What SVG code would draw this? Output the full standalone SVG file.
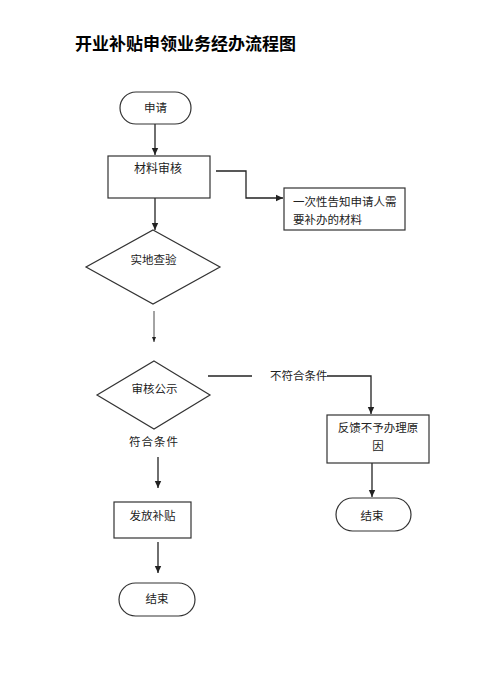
<svg xmlns="http://www.w3.org/2000/svg" width="486" height="688" viewBox="0 0 486 688">
<style>
.shape{fill:#fff;stroke:#333;stroke-width:1.2}
.ln{fill:none;stroke:#222;stroke-width:1.3}
.thin{fill:none;stroke:#333;stroke-width:0.9}
text{font-family:"Noto Sans CJK SC","Noto Sans",sans-serif;fill:#222;font-size:11.5px}
.c{text-anchor:middle}
.title{font-size:17px;font-weight:bold;fill:#000}
</style>
<defs>
<marker id="ah" markerUnits="userSpaceOnUse" markerWidth="8" markerHeight="8" refX="7" refY="4" orient="auto">
<path d="M0,0.8 L7,4 L0,7.2 Z" fill="#222"/>
</marker>
<marker id="ahs" markerUnits="userSpaceOnUse" markerWidth="6" markerHeight="6" refX="5" refY="3" orient="auto">
<path d="M0,1 L5,3 L0,5 Z" fill="#222"/>
</marker>
</defs>
<rect width="486" height="688" fill="#fff"/>
<text class="title" x="75" y="50">开业补贴申领业务经办流程图</text>

<g id="connectors">
<path class="ln" d="M155,124 V155" marker-end="url(#ah)"/>
<path class="ln" d="M216,171 H246 V198 H283" marker-end="url(#ah)"/>
<path class="ln" d="M155,198 V230" marker-end="url(#ah)"/>
<path class="thin" d="M154,311 V342" marker-end="url(#ahs)"/>
<path class="ln" d="M208,376 H252"/>
<path class="ln" d="M327,376 H371 V414" marker-end="url(#ah)"/>
<text x="270" y="380">不符合条件</text>
<text x="129" y="446" style="letter-spacing:1px">符合条件</text>
<path class="ln" d="M158,457 V488" marker-end="url(#ah)"/>
<path class="ln" d="M158,542 V573" marker-end="url(#ah)"/>
<path class="ln" d="M372,463 V497" marker-end="url(#ah)"/>
</g>

<g id="n-apply">
<rect class="shape" x="120" y="92" width="71" height="32" rx="16"/>
<text class="c" x="155.5" y="112">申请</text>
</g>
<g id="n-review">
<rect class="shape" x="108" y="156" width="102" height="42"/>
<text class="c" x="158" y="173" style="font-size:12px">材料审核</text>
</g>
<g id="n-notify">
<rect class="shape" x="284" y="188" width="121" height="42"/>
<text x="293" y="206">一次性告知申请人需</text>
<text x="293" y="223.5">要补办的材料</text>
</g>
<g id="n-inspect">
<polygon class="shape" points="153,230 220,267 153,304 86,267"/>
<text class="c" x="153.5" y="264">实地查验</text>
</g>
<g id="n-publicize">
<polygon class="shape" points="154,361 210,395 154,429 97,395"/>
<text class="c" x="154.5" y="393">审核公示</text>
</g>
<g id="n-issue">
<rect class="shape" x="114" y="502" width="77" height="36"/>
<text class="c" x="152.5" y="520">发放补贴</text>
</g>
<g id="n-end-left">
<rect class="shape" x="119" y="583" width="76" height="33" rx="16.5"/>
<text class="c" x="157" y="603">结束</text>
</g>
<g id="n-feedback">
<rect class="shape" x="327" y="415" width="102" height="48"/>
<text class="c" x="378" y="432">反馈不予办理原</text>
<text class="c" x="378" y="450">因</text>
</g>
<g id="n-end-right">
<rect class="shape" x="336" y="498" width="75" height="33" rx="16.5"/>
<text class="c" x="372" y="520">结束</text>
</g>
</svg>
